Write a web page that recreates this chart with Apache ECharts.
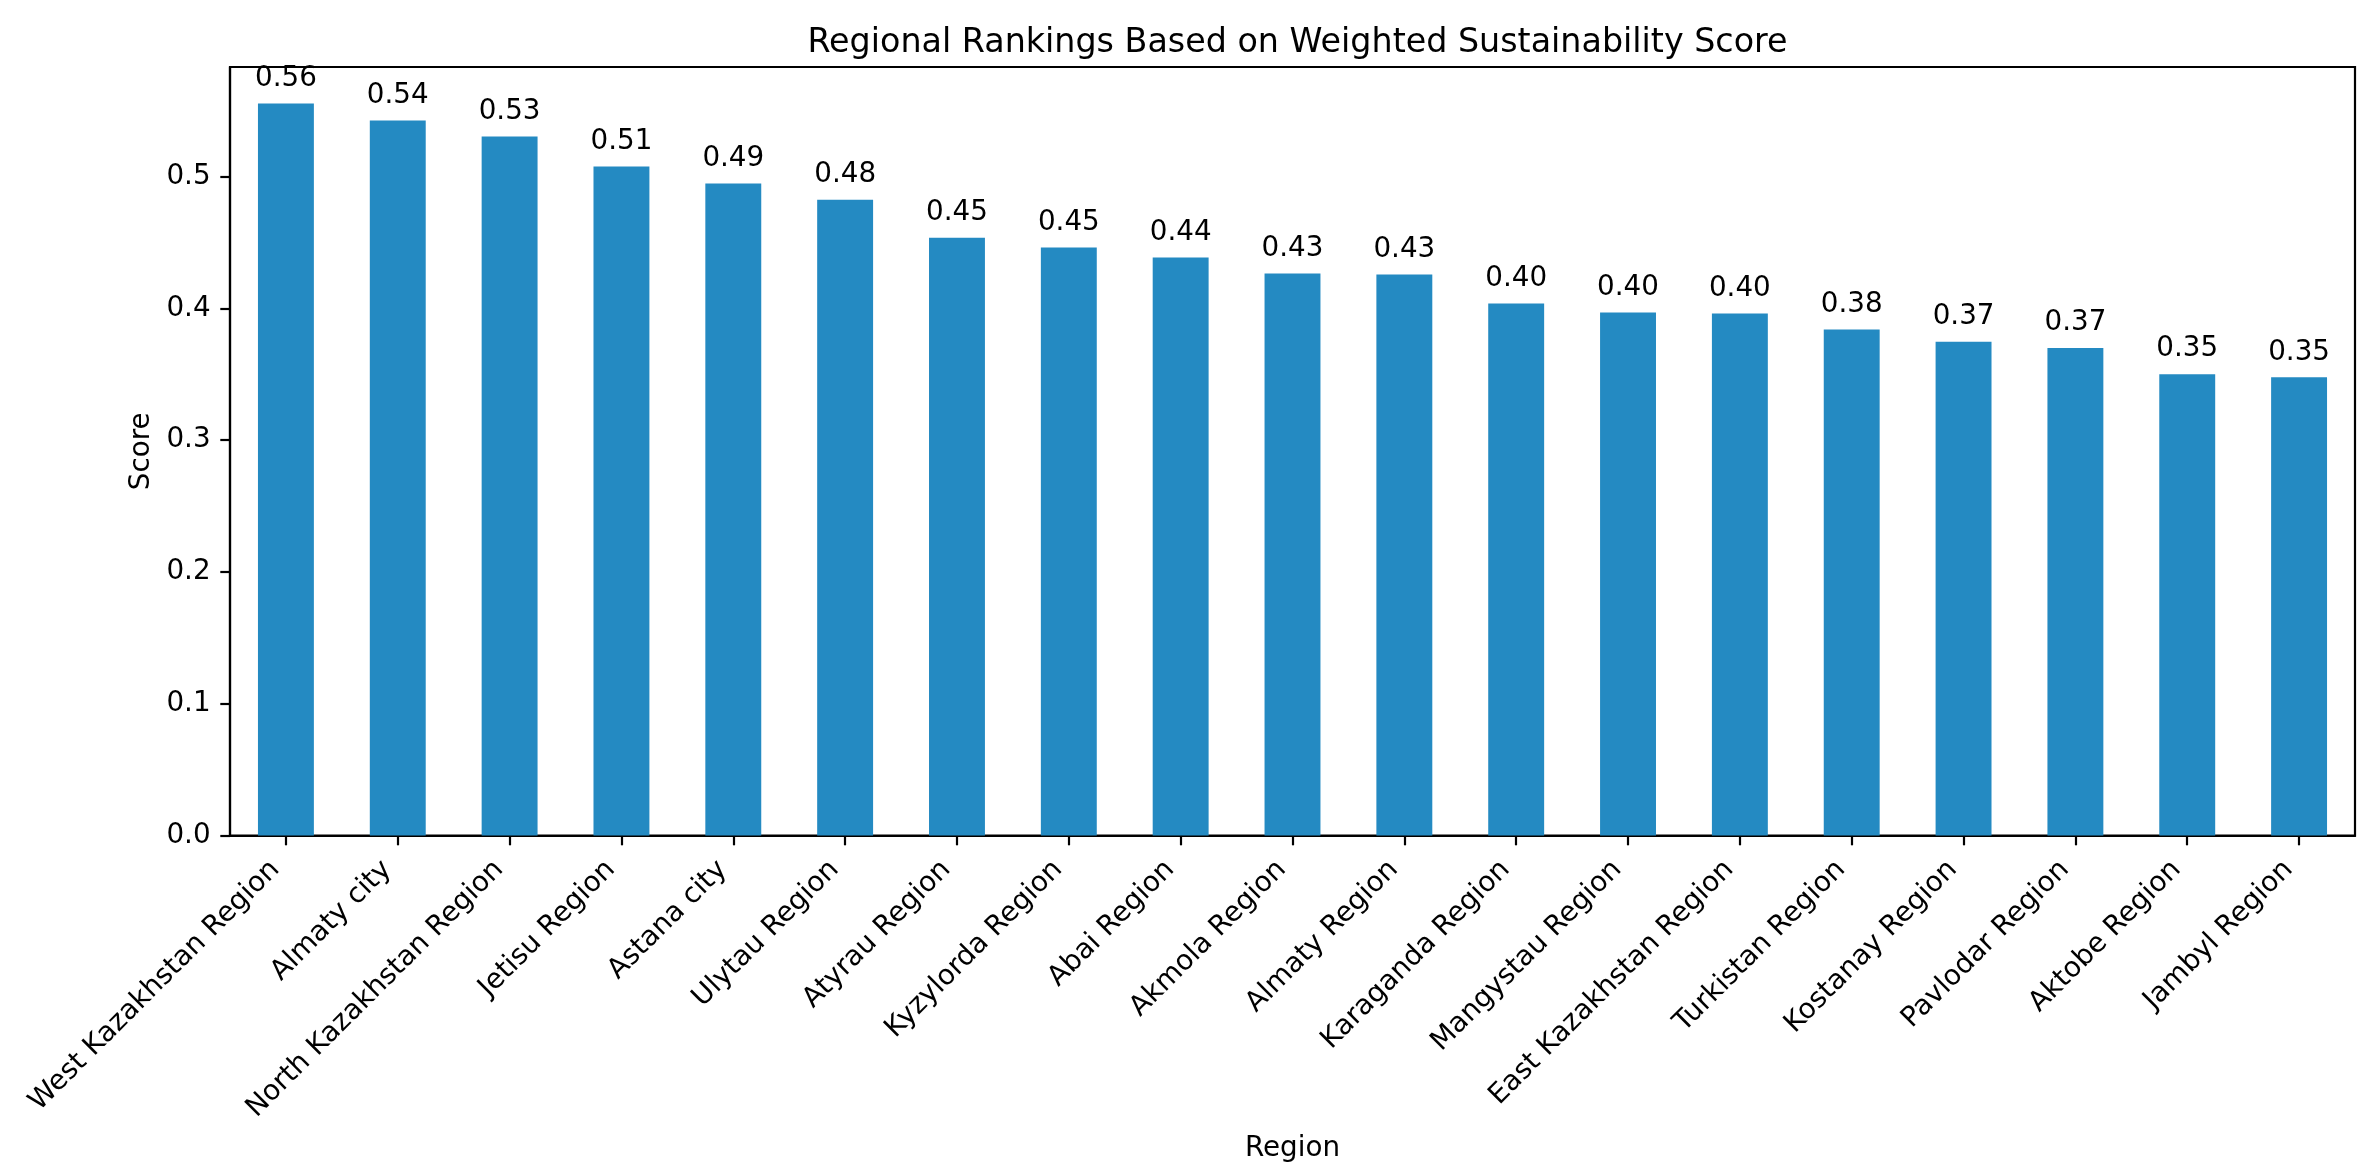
<!DOCTYPE html>
<html>
<head>
<meta charset="utf-8">
<script src="https://cdn.jsdelivr.net/npm/echarts@6/dist/echarts.min.js"></script>
<style>
html,body{margin:0;padding:0;background:#fff;}
#chart{width:2378px;height:1162px;}
</style>
</head>
<body>
<div id="chart"></div>
<script>
const regions = [
  "West Kazakhstan Region", "Almaty city", "North Kazakhstan Region", "Jetisu Region",
  "Astana city", "Ulytau Region", "Atyrau Region", "Kyzylorda Region", "Abai Region",
  "Akmola Region", "Almaty Region", "Karaganda Region", "Mangystau Region",
  "East Kazakhstan Region", "Turkistan Region", "Kostanay Region", "Pavlodar Region",
  "Aktobe Region", "Jambyl Region"
];
const scores = [
  0.5554, 0.5426, 0.5304, 0.5077, 0.4948, 0.4824, 0.4537, 0.4462, 0.4386,
  0.4265, 0.4257, 0.4037, 0.3969, 0.3962, 0.3840, 0.3748, 0.3700, 0.3501, 0.3477
];
const yTicks = [0.0, 0.1, 0.2, 0.3, 0.4, 0.5];
const titleText = "Regional Rankings Based on Weighted Sustainability Score";
const xAxisTitle = "Region";
const yAxisTitle = "Score";

const FONT = "DejaVu Sans";
const FS = 27.78;
const LW = 2.2;
const yMax = Math.max(...scores) * 1.05;

const chart = echarts.init(document.getElementById('chart'), null, {renderer: 'canvas'});
chart.setOption({
  animation: false,
  backgroundColor: '#ffffff',
  title: {
    text: titleText,
    left: 1292.5,
    textAlign: 'center',
    top: 22,
    textStyle: {fontFamily: FONT, fontSize: 33.33, fontWeight: 'normal', color: '#000'}
  },
  grid: {
    left: 230, right: 23, top: 67, bottom: 326.4,
    show: true, borderColor: '#000', borderWidth: LW, backgroundColor: 'transparent',
    containLabel: false,
    outerBoundsMode: 'none'
  },
  xAxis: {
    type: 'category',
    data: regions,
    boundaryGap: true,
    name: xAxisTitle,
    nameLocation: 'middle',
    nameGap: 299,
    nameTextStyle: {fontFamily: FONT, fontSize: FS, color: '#000'},
    axisLine: {show: true, lineStyle: {color: '#000', width: LW}},
    axisTick: {show: true, alignWithLabel: true, length: 9.7, lineStyle: {color: '#000', width: LW}},
    axisLabel: {
      interval: 0, rotate: 45, margin: 19, padding: [0, 15, 0, 0],
      fontFamily: FONT, fontSize: FS, color: '#000'
    },
    splitLine: {show: false}
  },
  yAxis: {
    type: 'value',
    min: 0,
    max: yMax,
    name: yAxisTitle,
    nameLocation: 'middle',
    nameGap: 74,
    nameTextStyle: {fontFamily: FONT, fontSize: FS, color: '#000'},
    axisLine: {show: true, lineStyle: {color: '#000', width: LW}},
    axisTick: {show: true, length: 9.7, customValues: yTicks, lineStyle: {color: '#000', width: LW}},
    axisLabel: {
      customValues: yTicks, margin: 19.4,
      formatter: v => v.toFixed(1),
      fontFamily: FONT, fontSize: FS, color: '#000'
    },
    splitLine: {show: false}
  },
  series: [{
    type: 'bar',
    data: scores,
    barWidth: '50%',
    itemStyle: {color: '#248ac2'},
    label: {
      show: true, position: 'top', distance: 11,
      formatter: p => p.value.toFixed(2),
      fontFamily: FONT, fontSize: FS, color: '#000'
    }
  }]
});
</script>
</body>
</html>
